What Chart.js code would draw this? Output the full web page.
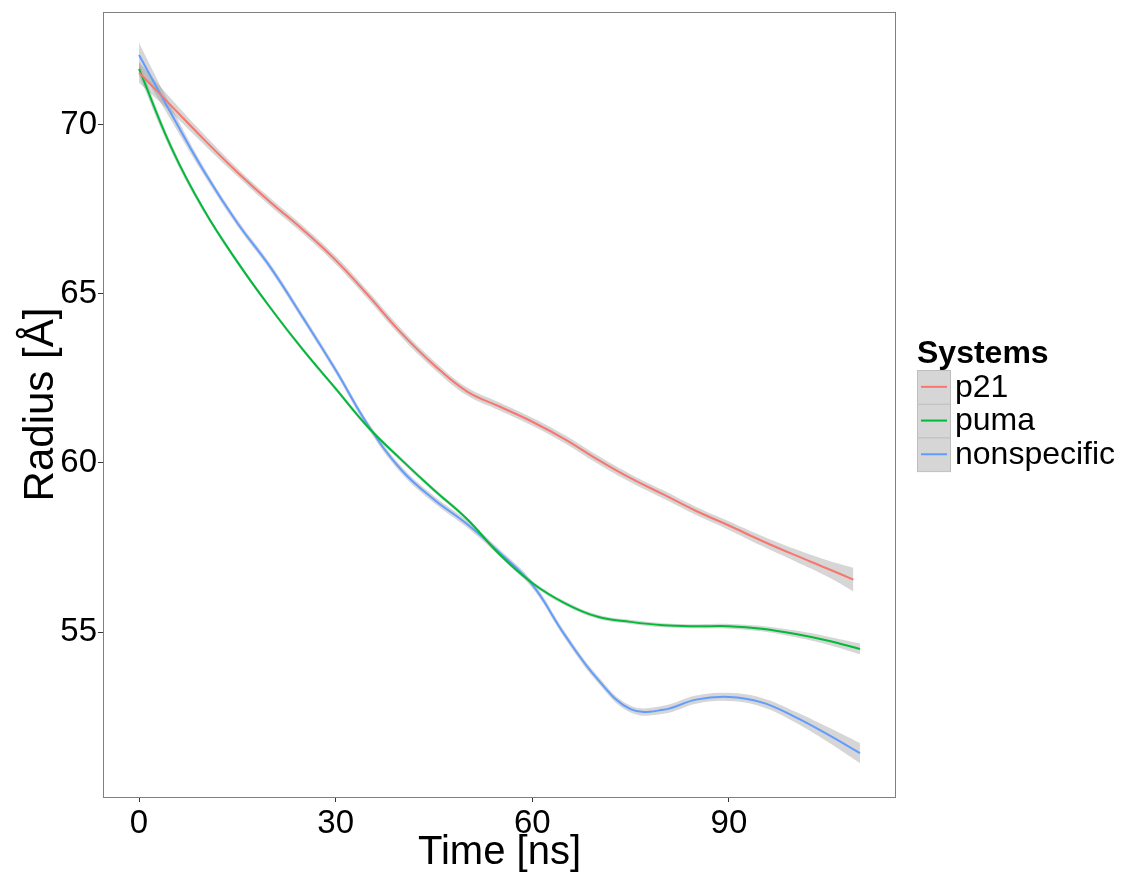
<!DOCTYPE html>
<html>
<head>
<meta charset="utf-8">
<title>Radius over time</title>
<script src="https://cdn.jsdelivr.net/npm/chart.js@4.4.1/dist/chart.umd.min.js"></script>
<style>
    html, body { margin: 0; padding: 0; background: #ffffff; }
    #wrap { position: relative; width: 1122px; height: 875px; }
</style>
</head>
<body>
<div id="wrap"><canvas id="radius_chart"></canvas></div>
<script>
// values (smoothed fits, time in ns, radius in Angstrom)
var timeNs = [0, 5, 10, 15, 20, 25, 30, 35, 40, 45, 50, 55, 60, 65, 70, 75, 80, 85, 90, 95, 100, 105, 110];
var p21Time = [0, 5, 10, 15, 20, 25, 30, 35, 40, 45, 50, 55, 60, 65, 70, 75, 80, 85, 90, 95, 100, 105, 109];

var p21Radius = [71.55, 70.55, 69.55, 68.6, 67.72, 66.9, 66.0, 64.95, 63.85, 62.9, 62.12, 61.67, 61.22, 60.7, 60.1, 59.55, 59.07, 58.58, 58.15, 57.7, 57.28, 56.88, 56.55];
var pumaRadius = [71.66, 69.3, 67.45, 65.95, 64.6, 63.35, 62.2, 61.05, 60.1, 59.2, 58.35, 57.3, 56.45, 55.85, 55.45, 55.3, 55.2, 55.17, 55.17, 55.1, 54.95, 54.75, 54.5];
var nonspecificRadius = [72.07, 70.3, 68.6, 67.1, 65.8, 64.3, 62.75, 61.1, 59.8, 58.92, 58.2, 57.35, 56.4, 54.9, 53.6, 52.72, 52.7, 53.0, 53.08, 52.92, 52.5, 51.98, 51.42];

// half width of the grey confidence ribbon
var p21Band = [0.3, 0.2, 0.15, 0.12, 0.12, 0.12, 0.12, 0.12, 0.12, 0.12, 0.12, 0.12, 0.12, 0.12, 0.12, 0.12, 0.12, 0.12, 0.13, 0.15, 0.18, 0.24, 0.35];
var pumaBand = [0.2, 0.12, 0.08, 0.07, 0.06, 0.06, 0.06, 0.06, 0.06, 0.06, 0.06, 0.06, 0.06, 0.06, 0.06, 0.06, 0.06, 0.06, 0.07, 0.08, 0.1, 0.12, 0.16];
var nonspecificBand = [0.35, 0.2, 0.12, 0.1, 0.1, 0.1, 0.1, 0.1, 0.1, 0.1, 0.1, 0.1, 0.1, 0.1, 0.1, 0.1, 0.12, 0.12, 0.12, 0.13, 0.16, 0.22, 0.3];

var seriesNames = ['p21', 'puma', 'nonspecific'];
var seriesColors = ['#F8766D', '#00BA38', '#619CFF'];
var xTicks = [0, 30, 60, 90];
var yTicks = [55, 60, 65, 70];

var FONT = '"Liberation Sans", Arial, Helvetica, sans-serif';
var BAND_FILL = 'rgba(153,153,153,0.4)';
Chart.defaults.font.family = FONT;
Chart.defaults.color = '#000000';

function points(xs, ys, shift) {
    return xs.map(function (x, i) {
        return { x: x, y: ys[i] + (shift ? shift[i] : 0) };
    });
}

function negate(arr) {
    return arr.map(function (v) { return -v; });
}

// line first so it sits on top, then the ribbon (upper fills to lower)
function buildDatasets() {
    var xs = [p21Time, timeNs, timeNs];
    var ys = [p21Radius, pumaRadius, nonspecificRadius];
    var bands = [p21Band, pumaBand, nonspecificBand];
    var lines = [];
    var ribbons = [];
    for (var i = 0; i < seriesNames.length; i++) {
        lines.push({
            label: seriesNames[i],
            data: points(xs[i], ys[i]),
            borderColor: seriesColors[i],
            borderWidth: 2,
            pointRadius: 0,
            tension: 0.4,
            fill: false,
            order: 0
        });
    }
    for (var j = 0; j < seriesNames.length; j++) {
        ribbons.push({
            label: seriesNames[j] + ' upper',
            data: points(xs[j], ys[j], bands[j]),
            borderWidth: 0,
            borderColor: 'rgba(0,0,0,0)',
            backgroundColor: BAND_FILL,
            pointRadius: 0,
            tension: 0.4,
            fill: '+1',
            order: 1
        });
        ribbons.push({
            label: seriesNames[j] + ' lower',
            data: points(xs[j], ys[j], negate(bands[j])),
            borderWidth: 0,
            borderColor: 'rgba(0,0,0,0)',
            pointRadius: 0,
            tension: 0.4,
            fill: false,
            order: 1
        });
    }
    return lines.concat(ribbons);
}

// grey panel border and the legend on the right
var panelAndLegend = {
    id: 'panelAndLegend',
    afterDraw: function (chart) {
        var ctx = chart.ctx;
        var area = chart.chartArea;
        ctx.save();
        ctx.strokeStyle = '#7f7f7f';
        ctx.lineWidth = 1;
        ctx.strokeRect(area.left + 0.5, area.top + 0.5, area.right - area.left - 1, area.bottom - area.top);

        ctx.fillStyle = '#000000';
        ctx.font = 'bold 32px ' + FONT;
        ctx.textBaseline = 'alphabetic';
        ctx.fillText('Systems', 917, 363);

        var keyTop = 370, keySize = 33.7;
        ctx.font = '32px ' + FONT;
        ctx.textBaseline = 'middle';
        for (var i = 0; i < seriesNames.length; i++) {
            var y = keyTop + i * keySize;
            ctx.fillStyle = '#d6d6d6';
            ctx.fillRect(917, y, 34, keySize);
            ctx.strokeStyle = '#bdbdbd';
            ctx.strokeRect(917.5, y + 0.5, 33, keySize);
            ctx.strokeStyle = seriesColors[i];
            ctx.lineWidth = 2;
            ctx.beginPath();
            ctx.moveTo(921, y + keySize / 2);
            ctx.lineTo(947, y + keySize / 2);
            ctx.stroke();
            ctx.lineWidth = 1;
            ctx.fillStyle = '#000000';
            ctx.fillText(seriesNames[i], 955, y + keySize / 2 + 1);
        }
        ctx.restore();
    }
};

var ctx = document.getElementById('radius_chart').getContext('2d');
var radiusChart = new Chart(ctx, {
    type: 'line',
    data: { datasets: buildDatasets() },
    options: {
        responsive: true,
        maintainAspectRatio: false,
        animation: false,
        layout: { padding: { left: 0, top: 12, right: 226, bottom: 0 } },
        plugins: {
            legend: { display: false },
            tooltip: { enabled: false },
            filler: { propagate: false }
        },
        scales: {
            x: {
                type: 'linear',
                min: -5.5,
                max: 115.5,
                afterBuildTicks: function (scale) {
                    scale.ticks = xTicks.map(function (v) { return { value: v }; });
                },
                afterFit: function (scale) {
                    scale.height = 78;
                    scale.paddingLeft = 0;
                    scale.paddingRight = 0;
                },
                grid: { display: true, drawOnChartArea: false, drawTicks: true, tickLength: 5, tickColor: '#333333' },
                border: { display: false },
                ticks: { font: { size: 33 }, color: '#000000', padding: 2, maxRotation: 0 },
                title: { display: true, text: 'Time [ns]', font: { size: 40, lineHeight: 1.1 }, color: '#000000', padding: { top: 0, bottom: 0 } }
            },
            y: {
                type: 'linear',
                min: 50.12,
                max: 73.34,
                afterBuildTicks: function (scale) {
                    scale.ticks = yTicks.map(function (v) { return { value: v }; });
                },
                afterFit: function (scale) {
                    scale.width = 103;
                    scale.paddingTop = 0;
                    scale.paddingBottom = 0;
                },
                grid: { display: true, drawOnChartArea: false, drawTicks: true, tickLength: 5, tickColor: '#333333' },
                border: { display: false },
                ticks: { font: { size: 33 }, color: '#000000', padding: 1 },
                title: { display: true, text: 'Radius [Å]', font: { size: 42, lineHeight: 1.2 }, color: '#000000', padding: { top: 16, bottom: 0 } }
            }
        }
    },
    plugins: [panelAndLegend]
});
</script>
</body>
</html>
